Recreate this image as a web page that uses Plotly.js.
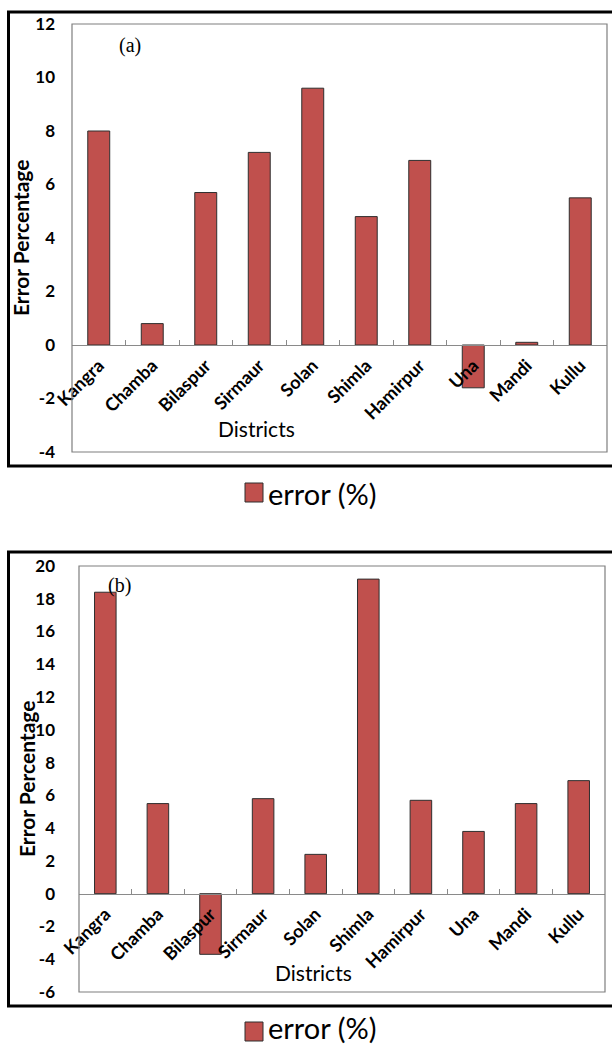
<!DOCTYPE html>
<html>
<head>
<meta charset="utf-8">
<script src="https://cdn.plot.ly/plotly-3.0.1.min.js"></script>
<style>
html,body{margin:0;padding:0;background:#fff;}
#chart{width:612px;height:1045px;}
</style>
</head>
<body>
<div id="chart"></div>
<script>
// ---- data ----
const districts = ['Kangra','Chamba','Bilaspur','Sirmaur','Solan','Shimla','Hamirpur','Una','Mandi','Kullu'];
const errorA = [8.0, 0.8, 5.7, 7.2, 9.6, 4.8, 6.9, -1.6, 0.1, 5.5];
const errorB = [18.4, 5.5, -3.7, 5.8, 2.4, 19.2, 5.7, 3.8, 5.5, 6.9];
const rangeA = [-4, 12];
const rangeB = [-6, 20];
const yTickValsA = [-4, -2, 0, 2, 4, 6, 8, 10, 12];
const yTickTextA = ['-4', '-2', '0', '2', '4', '6', '8', '10', '12'];
const yTickValsB = [-6, -4, -2, 0, 2, 4, 6, 8, 10, 12, 14, 16, 18, 20];
const yTickTextB = ['-6', '-4', '-2', '0', '2', '4', '6', '8', '10', '12', '14', '16', '18', '20'];
const seriesName = 'error (%)';
const yTitle = 'Error Percentage';
const xTitle = 'Districts';
const panelLabels = ['(a)', '(b)'];

// ---- layout helpers (pixel -> paper) ----
const W = 612, H = 1045;
const px = v => v / W;
const py = v => 1 - v / H;

const barColor = '#C0504D';
const tickFont = {family: 'Lato, sans-serif', size: 17, color: '#000', weight: 'bold'};
const catFont = {family: 'Lato, sans-serif', size: 18, color: '#000', weight: 'bold'};

const domA = {x: [px(72), px(607)], y: [py(452), py(24)]};
const domB = {x: [px(79), px(605)], y: [py(992), py(566)]};

function zeroPos(dom, range) {
  return dom.y[0] + (0 - range[0]) / (range[1] - range[0]) * (dom.y[1] - dom.y[0]);
}

const traces = [
  {type: 'bar', x: districts, y: errorA, name: seriesName, xaxis: 'x', yaxis: 'y',
   marker: {color: barColor, line: {color: '#2e2e2e', width: 1}}, showlegend: false},
  {type: 'bar', x: districts, y: errorB, name: seriesName, xaxis: 'x2', yaxis: 'y2',
   marker: {color: barColor, line: {color: '#2e2e2e', width: 1}}, showlegend: false}
];

function xAxis(dom, range) {
  return {
    domain: dom.x, anchor: 'free', position: zeroPos(dom, range),
    type: 'category', tickangle: -45, tickfont: catFont,
    showline: true, linecolor: '#8a8a8a', linewidth: 1,
    ticks: 'inside', tickson: 'boundaries', ticklen: 5, tickcolor: '#8a8a8a', tickwidth: 1,
    showgrid: false, zeroline: false, fixedrange: true, automargin: false,
    ticklabelstandoff: 2
  };
}
function yAxis(dom, range, vals, text) {
  return {
    domain: dom.y, range: range, tickmode: 'array', tickvals: vals, ticktext: text,
    tickfont: tickFont, showgrid: false, zeroline: false, showline: false,
    ticks: '', ticklabelstandoff: 16, fixedrange: true, automargin: false
  };
}

const shapes = [];
const annotations = [];
function framePanel(top, bottom) {
  shapes.push({type: 'rect', xref: 'paper', yref: 'paper',
    x0: px(8.5), x1: px(620), y0: py(bottom), y1: py(top),
    line: {color: '#000', width: 3}, fillcolor: 'rgba(0,0,0,0)'});
}
function plotBorder(xa, ya) {
  shapes.push({type: 'rect', xref: xa + ' domain', yref: ya + ' domain',
    x0: 0, x1: 1, y0: 0, y1: 1, line: {color: '#7f7f7f', width: 1.2}, layer: 'above'});
}
function legendItem(sqTop, textY) {
  shapes.push({type: 'rect', xref: 'paper', yref: 'paper',
    x0: px(245), x1: px(263), y0: py(sqTop + 19), y1: py(sqTop),
    fillcolor: barColor, line: {color: '#2e2e2e', width: 1}});
  annotations.push({xref: 'paper', yref: 'paper', x: px(266), y: py(textY),
    xanchor: 'left', yanchor: 'middle', showarrow: false, text: seriesName,
    font: {family: 'Lato, sans-serif', size: 29, color: '#000'}});
}

framePanel(12, 466);
framePanel(552, 1006);
plotBorder('x', 'y');
plotBorder('x2', 'y2');
legendItem(483, 494);
legendItem(1022, 1027);

// y titles
annotations.push({xref: 'paper', yref: 'paper', x: px(20), y: py(238), textangle: -90,
  showarrow: false, xanchor: 'center', yanchor: 'middle', text: yTitle,
  font: {family: 'Lato, sans-serif', size: 21, color: '#000', weight: 'bold'}});
annotations.push({xref: 'paper', yref: 'paper', x: px(26), y: py(779), textangle: -90,
  showarrow: false, xanchor: 'center', yanchor: 'middle', text: yTitle,
  font: {family: 'Lato, sans-serif', size: 21, color: '#000', weight: 'bold'}});
// x titles
annotations.push({xref: 'paper', yref: 'paper', x: px(256), y: py(429),
  showarrow: false, xanchor: 'center', yanchor: 'middle', text: xTitle,
  font: {family: 'Lato, sans-serif', size: 21, color: '#000'}});
annotations.push({xref: 'paper', yref: 'paper', x: px(313), y: py(972),
  showarrow: false, xanchor: 'center', yanchor: 'middle', text: xTitle,
  font: {family: 'Lato, sans-serif', size: 21, color: '#000'}});
// panel labels
annotations.push({xref: 'paper', yref: 'paper', x: px(130), y: py(45),
  showarrow: false, xanchor: 'center', yanchor: 'middle', text: panelLabels[0],
  font: {family: 'Liberation Serif, Times New Roman, serif', size: 20, color: '#000'}});
annotations.push({xref: 'paper', yref: 'paper', x: px(119), y: py(585),
  showarrow: false, xanchor: 'center', yanchor: 'middle', text: panelLabels[1],
  font: {family: 'Liberation Serif, Times New Roman, serif', size: 20, color: '#000'}});

const layout = {
  width: W, height: H,
  margin: {l: 0, r: 0, t: 0, b: 0, pad: 0},
  paper_bgcolor: '#fff', plot_bgcolor: '#fff',
  bargap: 0.59,
  showlegend: false,
  xaxis: xAxis(domA, rangeA),
  yaxis: yAxis(domA, rangeA, yTickValsA, yTickTextA),
  xaxis2: xAxis(domB, rangeB),
  yaxis2: yAxis(domB, rangeB, yTickValsB, yTickTextB),
  shapes: shapes,
  annotations: annotations
};

Plotly.newPlot('chart', traces, layout, {staticPlot: true, displayModeBar: false});
</script>
</body>
</html>
